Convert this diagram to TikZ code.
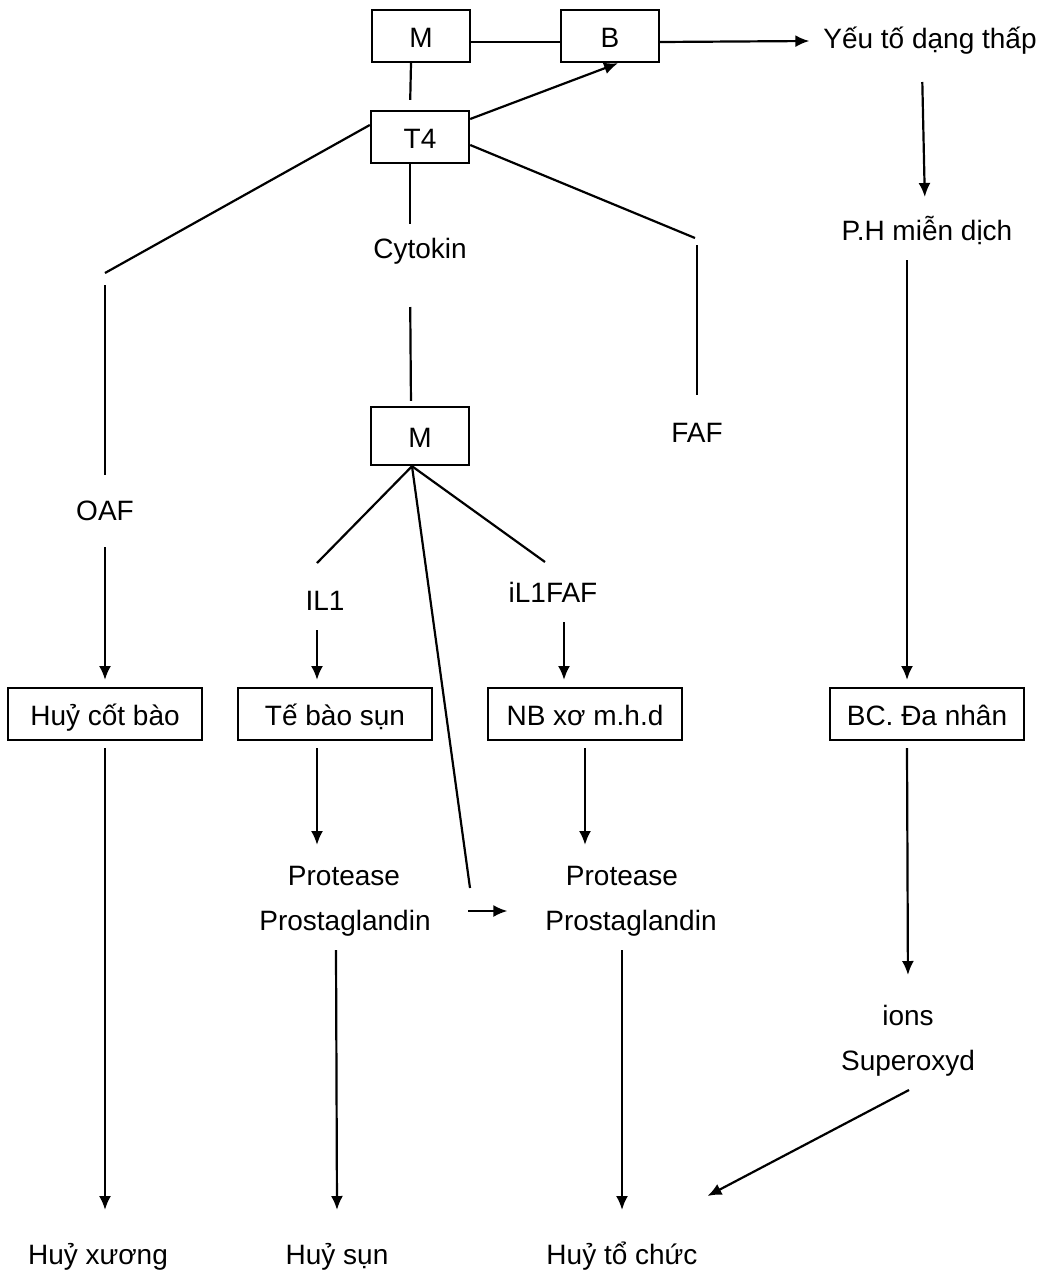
\documentclass[tikz,border=0pt]{standalone}
\usepackage{fontspec}
\setmainfont{Liberation Sans}
\usetikzlibrary{arrows.meta}

\begin{document}
\begin{tikzpicture}[x=0.5pt, y=-0.5pt, font=\fontsize{14}{16}\selectfont]
    % Define styles
    \tikzset{
        box/.style={draw, line width=1.2pt, minimum width=49pt, minimum height=26pt, inner sep=0pt, text height=11pt, text depth=0pt},
        rowbox/.style={box, minimum width=97pt, outer sep=4pt},
        lbl/.style={inner sep=0pt, outer sep=7pt, text height=10pt, text depth=3pt},
        endlbl/.style={lbl, outer sep=17pt},
        link/.style={line width=1.1pt},
        arr/.style={link, -{Latex[length=7pt, width=6pt]}}
    }
    \useasboundingbox (0,0) rectangle (1050,1280);

    % Top cells
    \node[box] (mtop) at (421,36) {M};
    \node[box] (b) at (610,36) {B};
    \node[box] (t4) at (420,137) {T4};
    \node[box, minimum height=29pt] (m2) at (420,436) {M};

    % Mediators
    \node[lbl] (cyt) at (420,251) {Cytokin};
    \node[lbl] (faf) at (697,435) {FAF};
    \node[lbl] (oaf) at (105,513) {OAF};
    \node[lbl] (il1) at (325,603) {IL1};
    \node[lbl] (ilfaf) at (553,595) {iL1FAF};

    % Right column
    \node[lbl] (ytdt) at (930,41) {Yếu tố dạng thấp};
    \node[lbl] (ph) at (927,233) {P.H miễn dịch};
    \node[lbl] (ions) at (908,1018) {ions};
    \node[lbl] (sox) at (908,1063) {Superoxyd};

    % Row of cells
    \node[rowbox] (hcb) at (105,714) {Huỷ cốt bào};
    \node[rowbox] (tbs) at (335,714) {Tế bào sụn};
    \node[rowbox] (nb) at (585,714) {NB xơ m.h.d};
    \node[rowbox] (bc) at (927,714) {BC. Đa nhân};

    % Enzymes
    \node[lbl] (pr1) at (344,878) {Protease};
    \node[lbl] (pg1) at (345,923) {Prostaglandin};
    \node[lbl] (pr2) at (622,878) {Protease};
    \node[lbl] (pg2) at (631,923) {Prostaglandin};

    % Results
    \node[endlbl] (hx) at (98,1257) {Huỷ xương};
    \node[endlbl] (hs) at (337,1257) {Huỷ sụn};
    \node[endlbl] (htc) at (622,1257) {Huỷ tổ chức};

    % Free ends
    \coordinate (oafa) at (105,273);
    \coordinate (oafb) at (105,285);
    \coordinate (fafa) at (695,238);
    \coordinate (fafb) at (697,245);
    \coordinate (il1a) at (317,563);
    \coordinate (ilfafa) at (545,562);
    \coordinate (mlong) at (470,888);
    \coordinate (xs) at (468,911);

    % Top links
    \draw[link] ([yshift=-3pt]mtop.east) -- ([yshift=-3pt]b.west);
    \draw[arr] ([yshift=-3pt]b.east) -- (ytdt.west);
    \draw[link, shorten >=5pt] ([xshift=-5pt]mtop.south) -- ([xshift=-5pt]t4.north);
    \draw[arr] ([yshift=9pt]t4.east) -- ([xshift=4pt]b.south);

    % From T4
    \draw[link] ([yshift=6pt]t4.west) -- (oafa);
    \draw[link, shorten >=5.5pt] (oafb) -- (oaf);
    \draw[link] ([yshift=-4pt]t4.east) -- (fafa);
    \draw[link, shorten >=6.5pt] (fafb) -- (faf);
    \draw[link] ([xshift=-5pt]t4.south) -- ([xshift=-5pt]cyt.north);
    \draw[link, shorten <=14.5pt, shorten >=2.5pt] ([xshift=-5pt]cyt.south) -- ([xshift=-4.5pt]m2.north);

    % From M
    \draw[link] ([xshift=-4pt]m2.south) -- (il1a);
    \draw[link] ([xshift=-4pt]m2.south) -- (ilfafa);
    \draw[link] ([xshift=-4pt]m2.south) -- (mlong);
    \draw[arr, shorten >=12pt] (xs) -- (xs -| pg2.west);

    % Into the cells
    \draw[arr, shorten <=3.5pt] (oaf) -- (hcb);
    \draw[arr] ([xshift=-4pt]il1.south) -- ([xshift=-9pt]tbs.north);
    \draw[arr] ([xshift=5.5pt]ilfaf.south) -- ([xshift=-10.5pt]nb.north);
    \draw[arr, shorten <=7pt, shorten >=4.5pt] ([xshift=-4pt]ytdt.south) -- ([xshift=-1pt]ph.north);
    \draw[arr] ([xshift=-10pt]ph.south) -- ([xshift=-10pt]bc.north);

    % Down to the results
    \draw[arr] (hcb.south) -- (hcb.south |- hx.north);
    \draw[arr, shorten >=3pt] ([xshift=-9pt]tbs.south) -- ([xshift=-13.5pt]pr1.north);
    \draw[arr, shorten >=3pt] (nb.south) -- (nb.south |- pr2.north);
    \draw[arr] ([xshift=-4.5pt]pg1.south) -- (hs.north);
    \draw[arr] ([xshift=-4.5pt]pg2.south) -- (htc.north);
    \draw[arr, shorten >=8pt] ([xshift=-10pt]bc.south) -- (ions.north);
    \draw[arr] ([xshift=0.5pt]sox.south) -- ([xshift=-12pt, yshift=7pt]htc.north east);

\end{tikzpicture}
\end{document}
